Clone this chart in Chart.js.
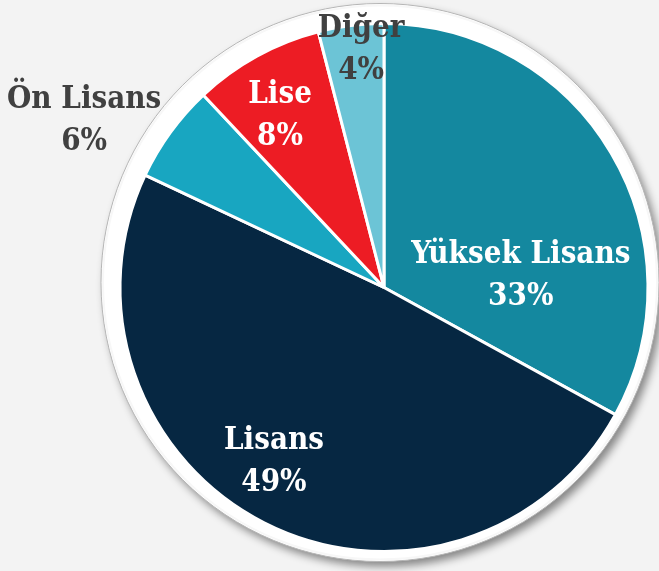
<!DOCTYPE html>
<html>
<head>
<meta charset="utf-8">
<script src="https://cdn.jsdelivr.net/npm/chart.js@4.4.0/dist/chart.umd.min.js"></script>
<style>
html,body{margin:0;padding:0;background:#f3f3f3;}
#wrap{width:659px;height:571px;position:relative;}
</style>
</head>
<body>
<div id="wrap"><canvas id="c" width="659" height="571"></canvas></div>
<script>
const categories = ["Yüksek Lisans", "Lisans", "Ön Lisans", "Lise", "Diğer"];
const values = [33, 49, 6, 8, 4];
const percentLabels = ["33%", "49%", "6%", "8%", "4%"];
const colors = ["#14889f", "#062742", "#18a6c1", "#ed1c24", "#6cc4d6"];
const labelColors = ["#ffffff", "#ffffff", "#404040", "#ffffff", "#404040"];
// label placement: angle shift (deg) from slice middle, radius as fraction of outer radius
const labelAngleShift = [25.6, 5.3, -6.9, -2.4, 1.7];
const labelRadius = [0.52, 0.78, 1.3, 0.76, 0.905];

const FONT = "bold condensed 31px 'DejaVu Serif'";

const ringPlugin = {
  id: 'ring',
  beforeDatasetsDraw(chart) {
    const arc = chart.getDatasetMeta(0).data[0];
    if (!arc) return;
    const {x, y, outerRadius} = arc;
    const ctx = chart.ctx;
    ctx.save();
    ctx.beginPath();
    ctx.arc(x - 4, y - 5, outerRadius + 15, 0, Math.PI * 2);
    ctx.shadowColor = 'rgba(0,0,0,0.45)';
    ctx.shadowBlur = 8;
    ctx.shadowOffsetX = 4;
    ctx.shadowOffsetY = 5;
    ctx.fillStyle = '#ffffff';
    ctx.fill();
    ctx.shadowColor = 'transparent';
    ctx.lineWidth = 1;
    ctx.strokeStyle = '#b5b5b5';
    ctx.stroke();
    ctx.beginPath();
    ctx.arc(x - 4, y - 5, outerRadius + 13, 0, Math.PI * 2);
    ctx.lineWidth = 2;
    ctx.strokeStyle = '#f7f7f7';
    ctx.stroke();
    ctx.restore();
  }
};

const labelPlugin = {
  id: 'sliceLabels',
  afterDatasetsDraw(chart) {
    const meta = chart.getDatasetMeta(0);
    const ctx = chart.ctx;
    ctx.save();
    ctx.font = FONT;
    try { ctx.fontStretch = 'condensed'; } catch (e) {}
    ctx.textAlign = 'center';
    ctx.textBaseline = 'middle';
    meta.data.forEach((arc, i) => {
      const mid = (arc.startAngle + arc.endAngle) / 2 + labelAngleShift[i] * Math.PI / 180;
      const r = arc.outerRadius * labelRadius[i];
      const cx = arc.x + Math.cos(mid) * r;
      const cy = arc.y + Math.sin(mid) * r;
      ctx.fillStyle = labelColors[i];
      ctx.fillText(categories[i], cx, cy - 21);
      ctx.fillText(percentLabels[i], cx, cy + 21);
    });
    ctx.restore();
  }
};

new Chart(document.getElementById('c'), {
  type: 'pie',
  data: {
    labels: categories,
    datasets: [{
      data: values,
      backgroundColor: colors,
      borderColor: '#ffffff',
      borderWidth: 3,
      radius: 264
    }]
  },
  options: {
    responsive: false,
    animation: false,
    layout: {padding: {left: 118, right: 9, top: 21, bottom: 17}},
    plugins: {legend: {display: false}, tooltip: {enabled: false}}
  },
  plugins: [ringPlugin, labelPlugin]
});
</script>
</body>
</html>
